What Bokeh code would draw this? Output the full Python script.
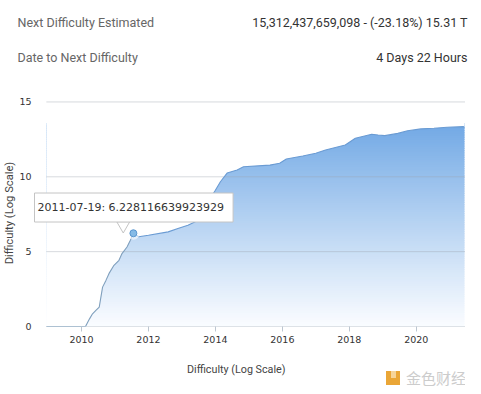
import numpy as np
from bokeh.plotting import figure
from bokeh.layouts import column
from bokeh.models import Range1d, FixedTicker, Label, Div
from bokeh.embed import file_html
from bokeh.resources import INLINE

# ---------------- data ----------------
years = [2008.95, 2010.12, 2010.24, 2010.33, 2010.43, 2010.53, 2010.58, 2010.63, 2010.73,
         2010.82, 2010.97, 2011.12, 2011.21, 2011.36, 2011.46, 2011.55, 2011.71, 2012.0,
         2012.59, 2012.88, 2013.18, 2013.4, 2013.6, 2013.8, 2014.0, 2014.15, 2014.35,
         2014.65, 2014.84, 2015.63, 2015.92, 2016.12, 2016.61, 2017.0, 2017.29, 2017.88,
         2018.18, 2018.67, 2018.86, 2019.06, 2019.45, 2019.74, 2020.14, 2020.53, 2020.92,
         2021.41, 2021.44]
log_difficulty = [0, 0, 0.51, 0.85, 1.07, 1.29, 1.96, 2.63, 3.08,
                  3.53, 4.09, 4.42, 4.87, 5.31, 5.76, 6.23, 6.0, 6.1,
                  6.32, 6.54, 6.76, 7.0, 7.6, 8.4, 9.1, 9.67, 10.25,
                  10.45, 10.67, 10.78, 10.9, 11.19, 11.39, 11.57, 11.79, 12.12,
                  12.57, 12.84, 12.79, 12.75, 12.9, 13.08, 13.2, 13.24, 13.31,
                  13.35, 13.28]

x_ticks = [2010, 2012, 2014, 2016, 2018, 2020]
x_tick_labels = ["2010", "2012", "2014", "2016", "2018", "2020"]
y_ticks = [0, 5, 10, 15]
y_tick_labels = ["0", "5", "10", "15"]

tip_date = "2011-07-19"
tip_year = 2011.55
tip_value = 6.228116639923929

header_left = ["Next Difficulty Estimated", "Date to Next Difficulty"]
header_right = ["15,312,437,659,098 - (-23.18%) 15.31 T", "4 Days 22 Hours"]
axis_title = "Difficulty (Log Scale)"
watermark = "金色财经"

# ---------------- layout (reference pixels) ----------------
PX_YR = 33.94          # pixels per year
PX_UNIT = 14.97        # pixels per log unit
X_AT_47 = 2008.92      # year at ref x = 47
FRAME_L, FRAME_R = 35, 473
FRAME_T, FRAME_B = 99, 326
HEAD_H = 86            # header div: page y 0..86
FIG_TOP = HEAD_H
FIG_H = 264
FOOT_H = 38
W = 465
FIG_X = 8              # figure's left edge on the page

def xd(xr):
    return X_AT_47 + (xr - 47) / PX_YR

def yd(yr):
    return (FRAME_B - yr) / PX_UNIT

x_start, x_end = xd(FRAME_L), xd(FRAME_R)
y_end = (FRAME_B - FRAME_T) / PX_UNIT

p = figure(width=W, height=FIG_H, output_backend="svg", toolbar_location=None,
           x_range=Range1d(x_start, x_end), y_range=Range1d(0, y_end),
           min_border_left=FRAME_L - FIG_X, min_border_right=FIG_X + W - FRAME_R,
           min_border_top=FRAME_T - FIG_TOP,
           min_border_bottom=FIG_TOP + FIG_H - FRAME_B, margin=0)
p.outline_line_color = None
p.background_fill_color = "white"
p.border_fill_color = "white"
p.xgrid.grid_line_color = None
p.ygrid.grid_line_color = None

x = np.array(years)
v = np.array(log_difficulty)

# gradient fill: horizontal bands, then white mask above the curve
top_val = 13.5
nb = 90
edges = np.linspace(0, top_val, nb + 1)
step = edges[1] - edges[0]
c0 = np.array([250, 252, 255])
c1 = np.array([114, 169, 229])
cols = []
for k in range(nb):
    t = ((edges[k] + edges[k + 1]) / 2) / top_val
    c = c0 + (c1 - c0) * t ** 1.05
    cols.append("#%02x%02x%02x" % tuple(int(round(a)) for a in c))
p.quad(left=x[0], right=x[-1], bottom=edges[:-1], top=edges[1:] + step * 0.6,
       fill_color=cols, line_color=None)
p.varea(x=x, y1=v, y2=y_end + 1, fill_color="white")

# horizontal grid lines (start where the data starts, like the reference)
gy = [t for t in y_ticks if t > 0]
p.segment(x0=[x[0]] * len(gy), y0=gy, x1=[x_end] * len(gy), y1=gy,
          line_color="#9aa3ad", line_alpha=0.4, line_width=1)
# x axis baseline
p.segment(x0=[x[0]], y0=[0], x1=[x_end], y1=[0], line_color="#bcc6d0", line_width=1)

# edge line
split = int(np.searchsorted(x, tip_year)) + 1
p.line(x[:split], v[:split], line_color="#7f9fbd", line_width=1.1)
p.line(x[split - 1:], v[split - 1:], line_color="#6a9bd3", line_width=1.1)

# highlighted point
p.scatter([tip_year], [tip_value], size=13, fill_color="white", fill_alpha=0.6, line_color=None)
p.scatter([tip_year], [tip_value], size=7, fill_color="#86bbe6", line_color="#5a96cf", line_width=1)

# tooltip pointer
p.scatter([xd(126)], [yd(225)], marker="inverted_triangle", size=13,
          fill_color="white", line_color="#c4c4c4")

# axes
xa = p.xaxis[0]
xa.ticker = FixedTicker(ticks=x_ticks)
xa.major_label_overrides = {t: l for t, l in zip(x_ticks, x_tick_labels)}
xa.axis_line_color = None
xa.major_tick_line_color = "#bcc6d0"
xa.major_tick_out = 5
xa.major_tick_in = 0
xa.minor_tick_line_color = None
xa.major_label_text_font = "DejaVu Sans"
xa.major_label_text_font_size = "9.5px"
xa.major_label_text_color = "#333333"
xa.major_label_standoff = 4

ya = p.yaxis[0]
ya.ticker = FixedTicker(ticks=y_ticks)
ya.major_label_overrides = {t: l for t, l in zip(y_ticks, y_tick_labels)}
ya.axis_line_color = None
ya.major_tick_line_color = None
ya.minor_tick_line_color = None
ya.major_tick_out = 0
ya.major_tick_in = 0
ya.major_label_text_font = "DejaVu Sans"
ya.major_label_text_font_size = "9.5px"
ya.major_label_text_color = "#333333"
ya.major_label_standoff = 2
ya.axis_label = axis_title
ya.axis_label_text_font = "Roboto"
ya.axis_label_text_font_size = "11.2px"
ya.axis_label_text_font_style = "normal"
ya.axis_label_text_color = "#444444"
ya.axis_label_standoff = 0

# tooltip box (shadow + box)
tip_text = f"{tip_date}: {tip_value}"

def make_pad():
    return dict(left=3, right=9, top=8, bottom=8)

def tip_label(**kw):
    try:
        return Label(padding=make_pad(), **kw)
    except Exception:
        return Label(padding=6, **kw)

p.add_layout(tip_label(x=xd(38), y=yd(208.5), text=tip_text, text_font="DejaVu Sans",
                       text_font_size="11px", text_alpha=0, text_baseline="middle",
                       text_align="left", background_fill_color="#000000",
                       background_fill_alpha=0.08))
p.add_layout(tip_label(x=xd(36), y=yd(207), text=tip_text, text_font="DejaVu Sans",
                       text_font_size="11px", text_color="#333333", text_baseline="middle",
                       text_align="left", background_fill_color="white",
                       border_line_color="#c4c4c4"))

# ---------------- header and footer (HTML text) ----------------
font = "font-family:Roboto,'Open Sans',sans-serif;font-size:12.5px;line-height:15px;white-space:nowrap;"
rows = []
for i, (lt, rt) in enumerate(zip(header_left, header_right)):
    top = 22.7 + i * 34.6 - 7.5
    rows.append(f'<span style="position:absolute;left:17.5px;top:{top:.1f}px;color:#666666;{font}">{lt}</span>')
    rows.append(f'<span style="position:absolute;left:0px;width:467.5px;text-align:right;top:{top:.1f}px;color:#333333;{font}">{rt}</span>')
header = Div(text=f'<div style="position:relative;width:{W}px;height:{HEAD_H}px;">' + "".join(rows) + "</div>",
             width=W, height=HEAD_H, margin=0)

foot_top = FIG_TOP + FIG_H
title_top = 370 - foot_top - 7
wm_top = 378 - foot_top - 9
footer_html = (
    f'<div style="position:relative;width:{W}px;height:{FOOT_H}px;overflow:hidden;">'
    f'<span style="position:absolute;left:187px;top:{title_top}px;font-family:Roboto,sans-serif;'
    f'font-size:10.75px;line-height:14px;color:#444444;white-space:nowrap;">{axis_title}</span>'
    f'<span style="position:absolute;left:386px;top:{wm_top + 2}px;width:14px;height:14px;'
    f'background:#eaa637;"></span>'
    f'<span style="position:absolute;left:391px;top:{wm_top + 2}px;width:5px;height:7px;'
    f'background:#f6d49a;"></span>'
    f'<span style="position:absolute;left:406px;top:{wm_top}px;font-family:\'Noto Sans CJK SC\';'
    f'font-size:15px;line-height:18px;color:#cccccc;white-space:nowrap;">{watermark}</span>'
    '</div>'
)
footer = Div(text=footer_html, width=W, height=FOOT_H, margin=0)

layout = column(header, p, footer, spacing=0, margin=0)
open("out.html", "w").write(file_html(layout, INLINE))
